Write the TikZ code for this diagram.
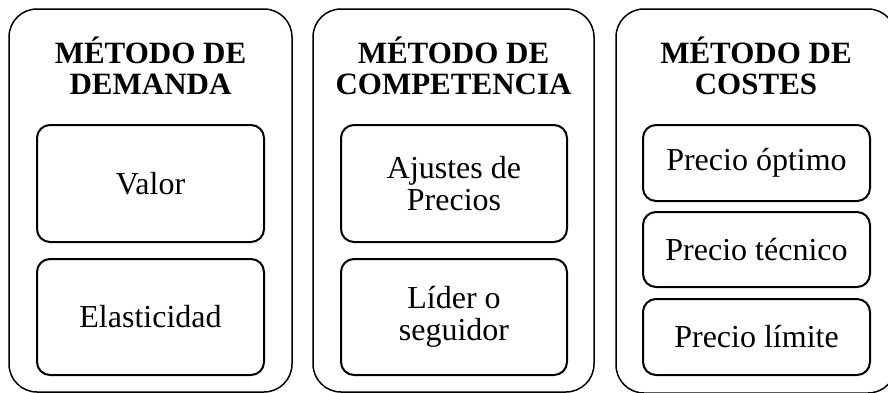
\documentclass[tikz,border=0pt]{standalone}
\usepackage{fontspec}
\setmainfont{Liberation Serif}
\begin{document}
\begin{tikzpicture}[x=1pt,y=-1pt,
  outerbox/.style={draw, line width=1.5pt, rounded corners=28pt, inner sep=0pt},
  innerbox/.style={draw, line width=2pt, rounded corners=13pt, inner sep=0pt, align=center,
     font=\fontsize{32}{32}\selectfont},
  titletext/.style={align=center, font=\bfseries\fontsize{31}{31}\selectfont, inner sep=0pt}]
\useasboundingbox (0,0) rectangle (888,392);
\clip (0,0) rectangle (888,392);
% outer boxes
\node[outerbox, minimum width=283pt, minimum height=383pt] (o1) at (150.5,200.5) {};
\node[outerbox, minimum width=281pt, minimum height=383pt] (o2) at (453.5,200.5) {};
\node[outerbox, minimum width=280pt, minimum height=384pt] (o3) at (756,201) {};
% titles
\node[titletext] (t1) at (150.5,66) {MÉTODO DE\\DEMANDA};
\node[titletext] (t2) at (453.5,66) {MÉTODO DE\\COMPETENCIA};
\node[titletext] (t3) at (756,66) {MÉTODO DE\\COSTES};
% column 1
\node[innerbox, minimum width=227pt, minimum height=117pt] (a1) at (150.5,183.5) {Valor};
\node[innerbox, minimum width=227pt, minimum height=116pt] (a2) at (150.5,317) {Elasticidad};
% column 2
\node[innerbox, minimum width=226pt, minimum height=117pt] (b1) at (454,183.5) {Ajustes de\\Precios};
\node[innerbox, minimum width=226pt, minimum height=116pt] (b2) at (454,317) {Líder o\\seguidor};
% column 3
\node[innerbox, minimum width=227pt, minimum height=76pt] (c1) at (756.5,163) {Precio óptimo};
\node[innerbox, minimum width=227pt, minimum height=75pt] (c2) at (756.5,249.5) {Precio técnico};
\node[innerbox, minimum width=227pt, minimum height=76pt] (c3) at (756.5,337) {Precio límite};
\end{tikzpicture}
\end{document}
